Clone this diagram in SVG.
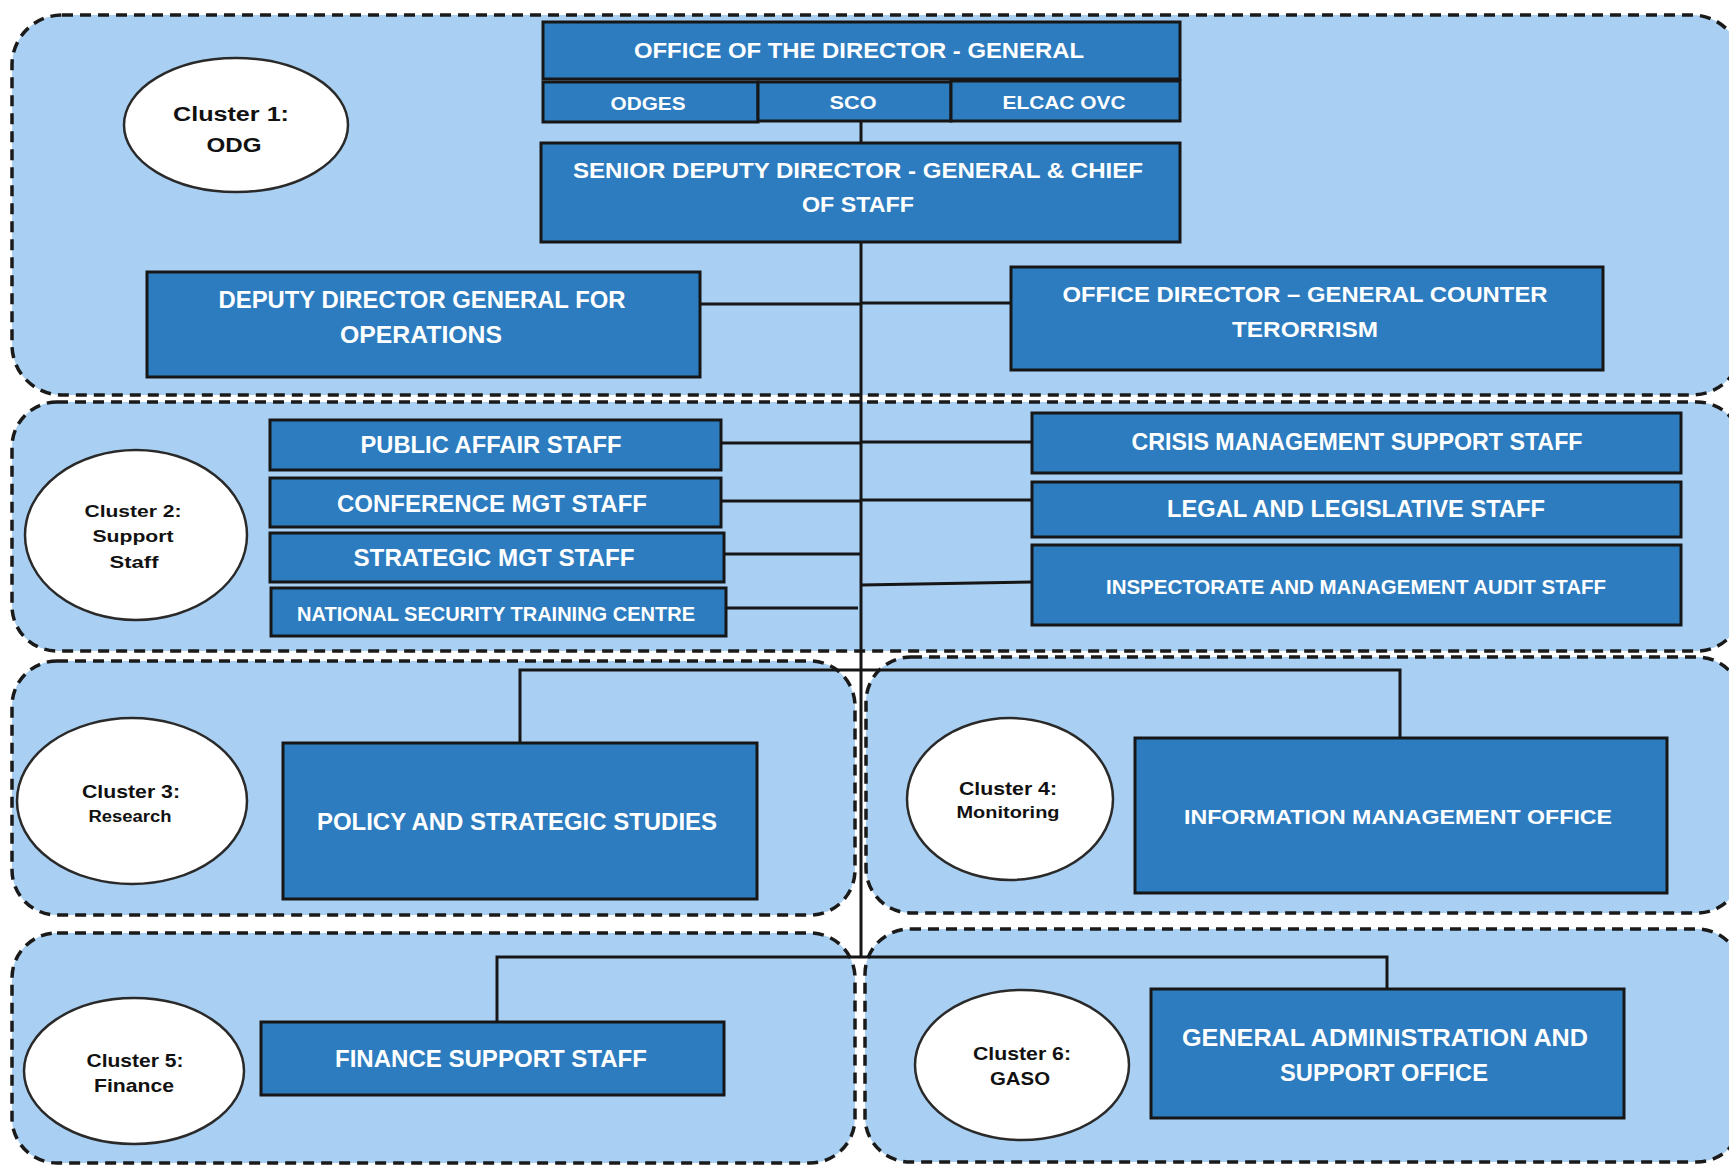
<svg xmlns="http://www.w3.org/2000/svg" width="1729" height="1166" viewBox="0 0 1729 1166">
  <style>
    .cluster { fill: #A9D0F2; stroke: #1a1a1a; stroke-width: 3.5; stroke-dasharray: 11 7; }
    .box { fill: #2C7CBF; stroke: #161616; stroke-width: 3; }
    .oval { fill: #ffffff; stroke: #2a2a2a; stroke-width: 2.5; }
    .wire { stroke: #161616; stroke-width: 3; fill: none; }
    .lbl { fill: #ffffff; font-family: "Liberation Sans", Arial, sans-serif; font-weight: bold; text-anchor: middle; }
    .clbl { fill: #111111; font-family: "Liberation Sans", Arial, sans-serif; font-weight: bold; text-anchor: middle; }
  </style>

  <rect width="1729" height="1166" fill="#ffffff"/>

  <!-- dashed cluster panels -->
  <g id="clusters">
    <rect id="panel-1" class="cluster" x="12" y="15" width="1730" height="380" rx="50"/>
    <rect id="panel-2" class="cluster" x="12" y="402" width="1730" height="249" rx="45"/>
    <rect id="panel-3" class="cluster" x="12" y="661" width="843" height="254" rx="45"/>
    <rect id="panel-4" class="cluster" x="866" y="657" width="876" height="256" rx="45"/>
    <rect id="panel-5" class="cluster" x="12" y="933" width="843" height="230" rx="45"/>
    <rect id="panel-6" class="cluster" x="865" y="929" width="877" height="233" rx="45"/>
  </g>

  <!-- reporting lines -->
  <g id="connectors">
    <line class="wire" x1="861" y1="122" x2="861" y2="957"/>
    <line class="wire" x1="700" y1="304" x2="861" y2="304"/>
    <line class="wire" x1="861" y1="303" x2="1011" y2="303"/>
    <line class="wire" x1="721" y1="443" x2="861" y2="443"/>
    <line class="wire" x1="721" y1="501" x2="861" y2="501"/>
    <line class="wire" x1="724" y1="554" x2="861" y2="554"/>
    <line class="wire" x1="726" y1="608" x2="858" y2="608"/>
    <line class="wire" x1="861" y1="442" x2="1032" y2="442"/>
    <line class="wire" x1="861" y1="500" x2="1032" y2="500"/>
    <line class="wire" x1="861" y1="585" x2="1032" y2="582"/>
    <polyline class="wire" points="520,743 520,670 1400,670 1400,738"/>
    <polyline class="wire" points="497,1022 497,957 1387,957 1387,989"/>
  </g>

  <!-- cluster badges -->
  <g id="cluster-1">
    <ellipse class="oval" cx="236" cy="125" rx="112" ry="67"/>
    <text class="clbl" x="231" y="121" font-size="20" textLength="116" lengthAdjust="spacingAndGlyphs">Cluster 1:</text>
    <text class="clbl" x="234" y="152" font-size="20" textLength="55" lengthAdjust="spacingAndGlyphs">ODG</text>
  </g>
  <g id="cluster-2">
    <ellipse class="oval" cx="136" cy="535" rx="111" ry="85"/>
    <text class="clbl" x="133" y="517" font-size="17" textLength="97" lengthAdjust="spacingAndGlyphs">Cluster 2:</text>
    <text class="clbl" x="133" y="542" font-size="17" textLength="81" lengthAdjust="spacingAndGlyphs">Support</text>
    <text class="clbl" x="134" y="568" font-size="17" textLength="49" lengthAdjust="spacingAndGlyphs">Staff</text>
  </g>
  <g id="cluster-3">
    <ellipse class="oval" cx="132" cy="801" rx="115" ry="83"/>
    <text class="clbl" x="131" y="798" font-size="18" textLength="98" lengthAdjust="spacingAndGlyphs">Cluster 3:</text>
    <text class="clbl" x="130" y="822" font-size="16" textLength="83" lengthAdjust="spacingAndGlyphs">Research</text>
  </g>
  <g id="cluster-4">
    <ellipse class="oval" cx="1010" cy="799" rx="103" ry="81"/>
    <text class="clbl" x="1008" y="795" font-size="18.5" textLength="98" lengthAdjust="spacingAndGlyphs">Cluster 4:</text>
    <text class="clbl" x="1008" y="818" font-size="16.5" textLength="103" lengthAdjust="spacingAndGlyphs">Monitoring</text>
  </g>
  <g id="cluster-5">
    <ellipse class="oval" cx="134" cy="1071" rx="110" ry="73"/>
    <text class="clbl" x="135" y="1067" font-size="19" textLength="97" lengthAdjust="spacingAndGlyphs">Cluster 5:</text>
    <text class="clbl" x="134" y="1092" font-size="19" textLength="80" lengthAdjust="spacingAndGlyphs">Finance</text>
  </g>
  <g id="cluster-6">
    <ellipse class="oval" cx="1022" cy="1065" rx="107" ry="75"/>
    <text class="clbl" x="1022" y="1060" font-size="18.5" textLength="98" lengthAdjust="spacingAndGlyphs">Cluster 6:</text>
    <text class="clbl" x="1020" y="1085" font-size="18.5" textLength="60" lengthAdjust="spacingAndGlyphs">GASO</text>
  </g>

  <!-- offices -->
  <g id="office-director-general">
    <rect class="box" x="543" y="22" width="637" height="57"/>
    <text class="lbl" x="859" y="58" font-size="22.5" textLength="450" lengthAdjust="spacingAndGlyphs">OFFICE OF THE DIRECTOR - GENERAL</text>
  </g>
  <g id="odges">
    <rect class="box" x="543" y="82" width="215" height="40"/>
    <text class="lbl" x="648" y="110" font-size="18.5" textLength="75" lengthAdjust="spacingAndGlyphs">ODGES</text>
  </g>
  <g id="sco">
    <rect class="box" x="758" y="82" width="193" height="39"/>
    <text class="lbl" x="853" y="109" font-size="18.5" textLength="47" lengthAdjust="spacingAndGlyphs">SCO</text>
  </g>
  <g id="elcac-ovc">
    <rect class="box" x="951" y="81" width="229" height="40"/>
    <text class="lbl" x="1064" y="109" font-size="18.5" textLength="123" lengthAdjust="spacingAndGlyphs">ELCAC OVC</text>
  </g>
  <g id="senior-deputy">
    <rect class="box" x="541" y="143" width="639" height="99"/>
    <text class="lbl" x="858" y="178" font-size="22.5" textLength="570" lengthAdjust="spacingAndGlyphs">SENIOR DEPUTY DIRECTOR - GENERAL &amp; CHIEF</text>
    <text class="lbl" x="858" y="212" font-size="22.5" textLength="112" lengthAdjust="spacingAndGlyphs">OF STAFF</text>
  </g>
  <g id="deputy-operations">
    <rect class="box" x="147" y="272" width="553" height="105"/>
    <text class="lbl" x="422" y="308" font-size="23" textLength="407" lengthAdjust="spacingAndGlyphs">DEPUTY DIRECTOR GENERAL FOR</text>
    <text class="lbl" x="421" y="343" font-size="23" textLength="162" lengthAdjust="spacingAndGlyphs">OPERATIONS</text>
  </g>
  <g id="counter-terrorism">
    <rect class="box" x="1011" y="267" width="592" height="103"/>
    <text class="lbl" x="1305" y="302" font-size="22.5" textLength="485" lengthAdjust="spacingAndGlyphs">OFFICE DIRECTOR – GENERAL COUNTER</text>
    <text class="lbl" x="1305" y="337" font-size="22.5" textLength="146" lengthAdjust="spacingAndGlyphs">TERORRISM</text>
  </g>

  <g id="public-affair">
    <rect class="box" x="270" y="420" width="451" height="50"/>
    <text class="lbl" x="491" y="453" font-size="23" textLength="261" lengthAdjust="spacingAndGlyphs">PUBLIC AFFAIR STAFF</text>
  </g>
  <g id="conference-mgt">
    <rect class="box" x="270" y="478" width="451" height="49"/>
    <text class="lbl" x="492" y="512" font-size="23.5" textLength="310" lengthAdjust="spacingAndGlyphs">CONFERENCE MGT STAFF</text>
  </g>
  <g id="strategic-mgt">
    <rect class="box" x="270" y="533" width="454" height="49"/>
    <text class="lbl" x="494" y="566" font-size="23.5" textLength="281" lengthAdjust="spacingAndGlyphs">STRATEGIC MGT STAFF</text>
  </g>
  <g id="training-centre">
    <rect class="box" x="271" y="588" width="455" height="48"/>
    <text class="lbl" x="496" y="621" font-size="19.5" textLength="398" lengthAdjust="spacingAndGlyphs">NATIONAL SECURITY TRAINING CENTRE</text>
  </g>
  <g id="crisis-management">
    <rect class="box" x="1032" y="413" width="649" height="60"/>
    <text class="lbl" x="1357" y="450" font-size="23" textLength="451" lengthAdjust="spacingAndGlyphs">CRISIS MANAGEMENT SUPPORT STAFF</text>
  </g>
  <g id="legal-legislative">
    <rect class="box" x="1032" y="482" width="649" height="55"/>
    <text class="lbl" x="1356" y="517" font-size="24" textLength="378" lengthAdjust="spacingAndGlyphs">LEGAL AND LEGISLATIVE STAFF</text>
  </g>
  <g id="inspectorate">
    <rect class="box" x="1032" y="545" width="649" height="80"/>
    <text class="lbl" x="1356" y="594" font-size="19.5" textLength="500" lengthAdjust="spacingAndGlyphs">INSPECTORATE AND MANAGEMENT AUDIT STAFF</text>
  </g>

  <g id="policy-studies">
    <rect class="box" x="283" y="743" width="474" height="156"/>
    <text class="lbl" x="517" y="830" font-size="24.5" textLength="400" lengthAdjust="spacingAndGlyphs">POLICY AND STRATEGIC STUDIES</text>
  </g>
  <g id="information-management">
    <rect class="box" x="1135" y="738" width="532" height="155"/>
    <text class="lbl" x="1398" y="824" font-size="20.5" textLength="428" lengthAdjust="spacingAndGlyphs">INFORMATION MANAGEMENT OFFICE</text>
  </g>
  <g id="finance-support">
    <rect class="box" x="261" y="1022" width="463" height="73"/>
    <text class="lbl" x="491" y="1067" font-size="23.5" textLength="312" lengthAdjust="spacingAndGlyphs">FINANCE SUPPORT STAFF</text>
  </g>
  <g id="general-administration">
    <rect class="box" x="1151" y="989" width="473" height="129"/>
    <text class="lbl" x="1385" y="1046" font-size="23.5" textLength="406" lengthAdjust="spacingAndGlyphs">GENERAL ADMINISTRATION AND</text>
    <text class="lbl" x="1384" y="1081" font-size="23.5" textLength="208" lengthAdjust="spacingAndGlyphs">SUPPORT OFFICE</text>
  </g>
</svg>
